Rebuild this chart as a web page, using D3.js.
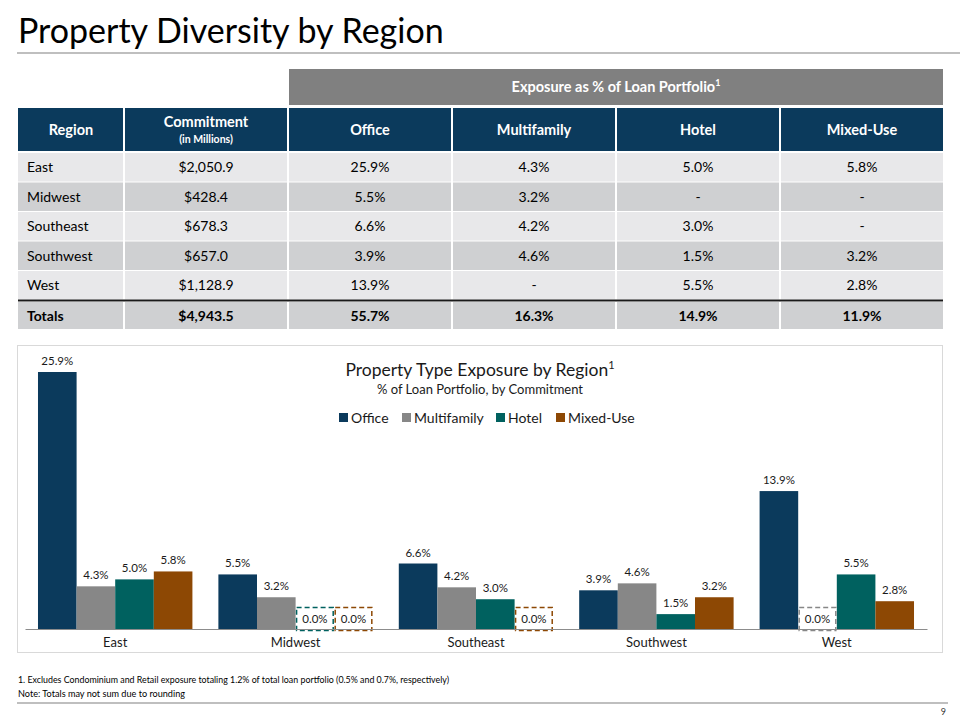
<!DOCTYPE html>
<html>
<head>
<meta charset="utf-8">
<script src="https://cdn.jsdelivr.net/npm/d3@7/dist/d3.min.js"></script>
<style>
  body { margin: 0; background: #fff; }
  svg { display: block; font-family: Lato, "Open Sans", sans-serif; }
</style>
</head>
<body>
<svg width="960" height="720"></svg>
<script>
// data
const regions = ["East", "Midwest", "Southeast", "Southwest", "West"];
const commitment = [2050.9, 428.4, 678.3, 657.0, 1128.9];
const seriesNames = ["Office", "Multifamily", "Hotel", "Mixed-Use"];
const office = [25.9, 5.5, 6.6, 3.9, 13.9];
const multifamily = [4.3, 3.2, 4.2, 4.6, null];
const hotel = [5.0, null, 3.0, 1.5, 5.5];
const mixedUse = [5.8, null, null, 3.2, 2.8];
const totals = [4943.5, 55.7, 16.3, 14.9, 11.9];
const colors = ["#0b3a5c", "#878787", "#00615f", "#8d4804"];

const series = [office, multifamily, hotel, mixedUse];

const svg = d3.select("svg");

const money = d3.format(",.1f");
const pct = v => v == null ? "-" : v.toFixed(1) + "%";

// page title
svg.append("text")
  .attr("x", 18).attr("y", 43)
  .attr("font-size", 34)
  .attr("fill", "#000")
  .text("Property Diversity by Region");
svg.append("line")
  .attr("x1", 17).attr("x2", 960).attr("y1", 53).attr("y2", 53)
  .attr("stroke", "#bfbfbf").attr("stroke-width", 2);

// ---------- table ----------
const table = svg.append("g").attr("class", "table");
const colX = [18, 124, 288, 452, 616, 780, 944];
const rowTops = [153, 182.5, 212, 241.5, 271];
const rowH = 29.5;

table.append("rect")
  .attr("x", 289).attr("y", 69).attr("width", 654).attr("height", 36)
  .attr("fill", "#808080");
const expo = table.append("text")
  .attr("x", 616).attr("y", 92)
  .attr("text-anchor", "middle")
  .attr("font-size", 14.5).attr("font-weight", "bold")
  .attr("fill", "#fff");
expo.append("tspan").text("Exposure as % of Loan Portfolio");
expo.append("tspan").attr("font-size", 9).attr("dy", -6).text("1");

// header row
const headers = ["Region", "Commitment", ...seriesNames];
headers.forEach((h, i) => {
  table.append("rect")
    .attr("x", colX[i] + (i ? 1 : 0)).attr("y", 108)
    .attr("width", colX[i + 1] - colX[i] - (i ? 2 : 1)).attr("height", 43)
    .attr("fill", "#0b3a5c");
  const cx = (colX[i] + colX[i + 1]) / 2;
  if (i === 1) {
    table.append("text").attr("x", cx).attr("y", 127)
      .attr("text-anchor", "middle").attr("font-size", 14.5).attr("font-weight", "bold")
      .attr("fill", "#fff").text(h);
    table.append("text").attr("x", cx).attr("y", 143)
      .attr("text-anchor", "middle").attr("font-size", 10.5).attr("font-weight", "bold")
      .attr("fill", "#fff").text("(in Millions)");
  } else {
    table.append("text").attr("x", cx).attr("y", 135)
      .attr("text-anchor", "middle").attr("font-size", 14.5).attr("font-weight", "bold")
      .attr("fill", "#fff").text(h);
  }
});

function drawRow(y, h, fill, cells, bold) {
  cells.forEach((c, i) => {
    table.append("rect")
      .attr("x", colX[i] + (i ? 1 : 0)).attr("y", y)
      .attr("width", colX[i + 1] - colX[i] - (i ? 2 : 1)).attr("height", h)
      .attr("fill", fill);
    table.append("text")
      .attr("x", i === 0 ? colX[0] + 9 : (colX[i] + colX[i + 1]) / 2)
      .attr("y", y + h / 2 + 5)
      .attr("text-anchor", i === 0 ? "start" : "middle")
      .attr("font-size", 14)
      .attr("font-weight", bold ? "bold" : "normal")
      .attr("fill", "#000")
      .text(c);
  });
}

regions.forEach((r, j) => {
  const cells = [r, "$" + money(commitment[j]), ...series.map(s => pct(s[j]))];
  drawRow(rowTops[j], rowH - 1, j % 2 ? "#cfd0d2" : "#e8e8ea", cells, false);
});
table.append("rect")
  .attr("x", 18).attr("y", 299.5).attr("width", 925).attr("height", 2)
  .attr("fill", "#1a1a1a");
drawRow(302, 27, "#cfd0d2",
  ["Totals", "$" + money(totals[0]), ...totals.slice(1).map(pct)], true);

// ---------- chart ----------
svg.append("rect")
  .attr("x", 17.5).attr("y", 345.5).attr("width", 925).attr("height", 307)
  .attr("fill", "#fff").attr("stroke", "#d9d9d9");

const baseY = 629;
const x0 = d3.scaleBand().domain(regions).range([25, 927])
  .paddingInner(0.144).paddingOuter(0.072);
const x1 = d3.scaleBand().domain(seriesNames).range([0, x0.bandwidth()]);
const y = d3.scaleLinear().domain([0, 25.9]).range([baseY, 372]);

const chart = svg.append("g");

const groups = chart.selectAll("g.region")
  .data(regions)
  .join("g")
  .attr("class", "region")
  .attr("transform", d => `translate(${x0(d)},0)`);

const cellsData = (r, j) => seriesNames.map((s, k) => ({ s, k, v: series[k][j] }));

groups.each(function (r, j) {
  const g = d3.select(this);
  const items = cellsData(r, j);

  g.selectAll("rect.bar")
    .data(items.filter(d => d.v != null))
    .join("rect")
    .attr("class", "bar")
    .attr("x", d => x1(d.s))
    .attr("width", x1.bandwidth())
    .attr("y", d => y(d.v))
    .attr("height", d => baseY - y(d.v))
    .attr("fill", d => colors[d.k]);

  g.selectAll("text.val")
    .data(items.filter(d => d.v != null))
    .join("text")
    .attr("class", "val")
    .attr("x", d => x1(d.s) + x1.bandwidth() / 2)
    .attr("y", d => y(d.v) - 7)
    .attr("text-anchor", "middle")
    .attr("font-size", 11.5)
    .attr("fill", "#1a1a1a")
    .text(d => pct(d.v));

  // placeholders for empty categories
  const empty = items.filter(d => d.v == null);
  g.selectAll("rect.ph")
    .data(empty)
    .join("rect")
    .attr("class", "ph")
    .attr("x", d => x1(d.s) + 1)
    .attr("width", x1.bandwidth() - 2)
    .attr("y", 607.5)
    .attr("height", 23)
    .attr("fill", "#fff")
    .attr("stroke", d => colors[d.k])
    .attr("stroke-width", 1.5)
    .attr("stroke-dasharray", "5,3");
  g.selectAll("text.ph")
    .data(empty)
    .join("text")
    .attr("class", "ph")
    .attr("x", d => x1(d.s) + x1.bandwidth() / 2)
    .attr("y", 622.5)
    .attr("text-anchor", "middle")
    .attr("font-size", 11.5)
    .attr("fill", "#1a1a1a")
    .text("0.0%");
});

// x axis
const xAxis = d3.axisBottom(x0).tickSize(0).tickPadding(9);
const ax = chart.append("g")
  .attr("transform", `translate(0,${baseY})`)
  .call(xAxis);
ax.select(".domain").attr("stroke", "#8c8c8c");
ax.selectAll("text")
  .attr("font-family", "Lato, 'Open Sans', sans-serif")
  .attr("font-size", 13)
  .attr("fill", "#1a1a1a");

// chart title
const ct = chart.append("text")
  .attr("x", 480).attr("y", 376)
  .attr("text-anchor", "middle")
  .attr("font-size", 17.5)
  .attr("fill", "#1a1a1a");
ct.append("tspan").text("Property Type Exposure by Region");
ct.append("tspan").attr("font-size", 11).attr("dy", -7).text("1");
chart.append("text")
  .attr("x", 480).attr("y", 394)
  .attr("text-anchor", "middle")
  .attr("font-size", 13)
  .attr("fill", "#1a1a1a")
  .text("% of Loan Portfolio, by Commitment");

// legend
const legendX = [339, 402, 496, 556];
const legend = chart.selectAll("g.leg")
  .data(seriesNames)
  .join("g")
  .attr("class", "leg")
  .attr("transform", (d, i) => `translate(${legendX[i]},418)`);
legend.append("rect")
  .attr("x", 0).attr("y", -5).attr("width", 9).attr("height", 9)
  .attr("fill", (d, i) => colors[i]);
legend.append("text")
  .attr("x", 12).attr("y", 5)
  .attr("font-size", 14)
  .attr("fill", "#1a1a1a")
  .text(d => d);

// footnotes
svg.append("text")
  .attr("x", 18).attr("y", 683)
  .attr("font-size", 9.5)
  .attr("textLength", 431).attr("lengthAdjust", "spacingAndGlyphs")
  .attr("fill", "#000")
  .text("1. Excludes Condominium and Retail exposure totaling 1.2% of total loan portfolio (0.5% and 0.7%, respectively)");
svg.append("text")
  .attr("x", 18).attr("y", 697)
  .attr("font-size", 9.5)
  .attr("textLength", 167).attr("lengthAdjust", "spacingAndGlyphs")
  .attr("fill", "#000")
  .text("Note: Totals may not sum due to rounding");
svg.append("line")
  .attr("x1", 17).attr("x2", 948).attr("y1", 703).attr("y2", 703)
  .attr("stroke", "#bfbfbf").attr("stroke-width", 2);
svg.append("text")
  .attr("x", 946).attr("y", 715)
  .attr("text-anchor", "end")
  .attr("font-size", 9)
  .attr("fill", "#333")
  .text("9");
</script>
</body>
</html>
